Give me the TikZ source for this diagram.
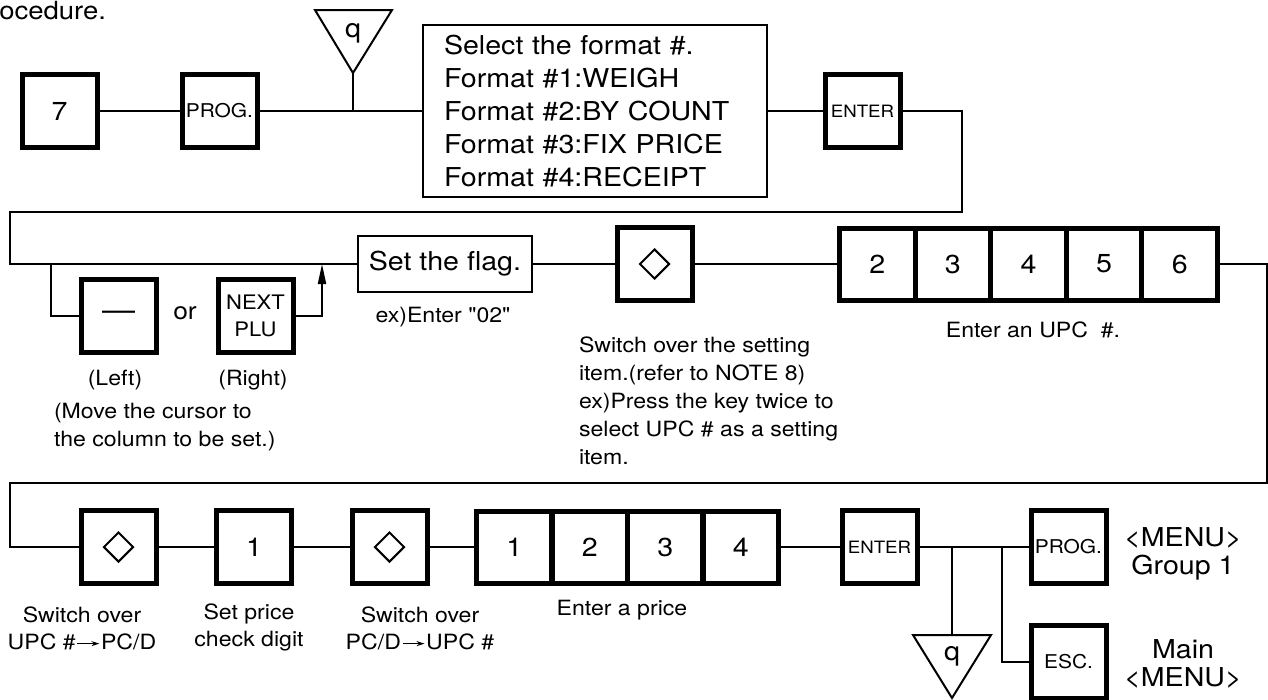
\documentclass[tikz,border=0pt]{standalone}
\usepackage{fontspec}
\setmainfont{TeX Gyre Heros}[FakeStretch=1.1]
\usetikzlibrary{arrows.meta,shapes.geometric}
\newcommand{\fbig}{\fontsize{26}{33}\selectfont}
\newcommand{\fsmall}{\fontsize{21}{28}\selectfont}
\newcommand{\fkey}{\fontsize{19}{24}\selectfont}
\newcommand{\fenter}{\fontsize{17}{22}\selectfont}
\newcommand{\fnext}{\fontsize{20}{27}\selectfont}
\newcommand{\fdash}{\fontsize{30}{30}\selectfont}
\newcommand{\tinyarr}{\kern1pt\tikz[baseline=0pt]\draw[line width=1.3pt,-{Stealth[length=8pt,width=5pt]}] (0pt,6pt) -- (22pt,6pt);\kern1pt}
\begin{document}
\begin{tikzpicture}[x=1pt,y=-1pt,line width=2pt,
  key/.style={draw,line width=5pt,minimum width=75pt,minimum height=73pt,inner sep=0pt,font=\fbig},
  cell/.style={key,minimum width=75.6pt,minimum height=72pt},
  tbox/.style={draw,line width=2pt,inner sep=0pt,font=\fbig},
  lbl/.style={font=\fsmall,align=center,inner sep=0pt},
  dsym/.style={draw,diamond,line width=2pt,minimum width=30pt,minimum height=30pt,inner sep=0pt},
  tri/.style={line width=2pt,line join=miter}]
\useasboundingbox (0,0) rectangle (1268,699);

% title fragment
\node[font=\fontsize{25}{30}\selectfont,anchor=base east,inner sep=0pt] (title) at (107,19) {ocedure.};

% ---------- row 1 ----------
\node[key] (k7) at (59.5,111) {7};
\node[key,font=\fkey] (prog1) at (219.5,111) {PROG.};
\node[tbox,minimum width=344pt,minimum height=172pt,text width=302pt,inner xsep=21pt,align=left] (fmt) at (595,111)
  {Select the format \#.\\Format \#1:WEIGH\\Format \#2:BY COUNT\\Format \#3:FIX PRICE\\Format \#4:RECEIPT};
\node[key,font=\fenter] (enter1) at (862.5,111) {ENTER};

\coordinate (q1a) at (315,10);
\coordinate (q1b) at (392,10);
\coordinate (q1tip) at (353,73);
\draw[tri] (q1a) -- (q1b) -- (q1tip) -- cycle;
\node[font=\fbig,inner sep=0pt] (q1) at (353,33) {q};

\draw (k7.east) -- (prog1.west);
\draw (prog1.east) -- (fmt.west);
\draw (q1tip) -- (q1tip |- k7.east);
\draw (fmt.east) -- (enter1.west);

% ---------- row 2 ----------
\node[tbox,minimum width=174pt,minimum height=56pt] (flag) at (445,264) {Set the flag.};
\node[key] (dia1) at (654.5,264) {};
\node[dsym] (dia1s) at (dia1) {};
\node[cell] (u1) at (877.3,264) {2};
\node[cell] (u2) at (952.9,264) {3};
\node[cell] (u3) at (1028.5,264) {4};
\node[cell] (u4) at (1104.1,264) {5};
\node[cell] (u5) at (1179.7,264) {6};

\node[key,font=\fdash] (lk) at (118.5,315.5) {\textemdash};
\node[key,font=\fnext,align=center] (nk) at (255.5,315.5) {NEXT\\PLU};
\node[font=\fontsize{24}{28}\selectfont,inner sep=0pt] (ortxt) at (185,313) {or};

\coordinate (tr) at (962,212);
\coordinate (tl) at (10,264);
\coordinate (b1) at (51,264);
\coordinate (a1) at (322,264);
\draw (enter1.east) -| (tr) -| (tl) -- (flag.west);
\draw (b1) |- (lk.west);
\draw[-{Triangle[length=20pt,width=8pt]}] (nk.east) -| (a1);
\draw (flag.east) -- (dia1.west);
\draw (dia1.east) -- (u1.west);

\node[lbl] (leftl) at (115,380) {(Left)};
\node[lbl] (rightl) at (253,380) {(Right)};
\node[lbl,align=left,anchor=west] (movel) at (53,427.5) {(Move the cursor to\\the column to be set.)};
\node[lbl,font=\fsmall\addfontfeatures{Ligatures=TeXOff}] (exl) at (443,317) {ex)Enter "02"};
\node[lbl,align=left,anchor=west] (swl) at (578,401) {Switch over the setting\\item.(refer to NOTE 8)\\ex)Press the key twice to\\select UPC \# as a setting\\item.};
\node[lbl] (upcl) at (1033,330) {Enter an UPC\ \ \#.};

% ---------- row 3 ----------
\node[key] (dA) at (118.5,547) {};
\node[dsym] (dAs) at (dA) {};
\node[key] (one) at (254,547) {1};
\node[key] (dB) at (389.5,547) {};
\node[dsym] (dBs) at (dB) {};
\node[cell] (p1) at (514.25,547) {1};
\node[cell] (p2) at (589.75,547) {2};
\node[cell] (p3) at (665.25,547) {3};
\node[cell] (p4) at (740.75,547) {4};
\node[key,font=\fenter] (enter2) at (879.5,547) {ENTER};
\node[key,font=\fkey] (prog2) at (1068.5,547) {PROG.};
\node[key,font=\fkey] (esc) at (1068.5,662) {ESC.};

\coordinate (rr) at (1267,483);
\coordinate (ll) at (10,547);
\draw (u5.east) -| (rr) -| (ll) -- (dA.west);
\draw (dA.east) -- (one.west);
\draw (one.east) -- (dB.west);
\draw (dB.east) -- (p1.west);
\draw (p4.east) -- (enter2.west);
\draw (enter2.east) -- (prog2.west);

\coordinate (q2a) at (913,635);
\coordinate (q2b) at (991,635);
\coordinate (q2tip) at (952,698);
\coordinate (q2top) at (952,635);
\draw[tri] (q2a) -- (q2b) -- (q2tip) -- cycle;
\node[font=\fbig,inner sep=0pt] (q2) at (952,656) {q};
\draw (q2top |- enter2.east) -- (q2top);
\coordinate (eb) at (1002,547);
\draw (eb) |- (esc.west);

\node[lbl,font=\fbig,align=center] (menu1) at (1183,554) {<MENU>\\[-5pt]Group 1};
\node[lbl,font=\fbig,align=center] (menu2) at (1183,664) {Main\\[-5pt]<MENU>};

\node[lbl] (sw1) at (82,628.5) {Switch over\\[-1pt]UPC \#\tinyarr PC/D};
\node[lbl] (spl) at (249,627.5) {Set price\\[-1pt]check digit};
\node[lbl] (sw2) at (420,628.5) {Switch over\\[-1pt]PC/D\tinyarr UPC \#};
\node[lbl] (prl) at (622,610) {Enter a price};
\end{tikzpicture}
\end{document}
